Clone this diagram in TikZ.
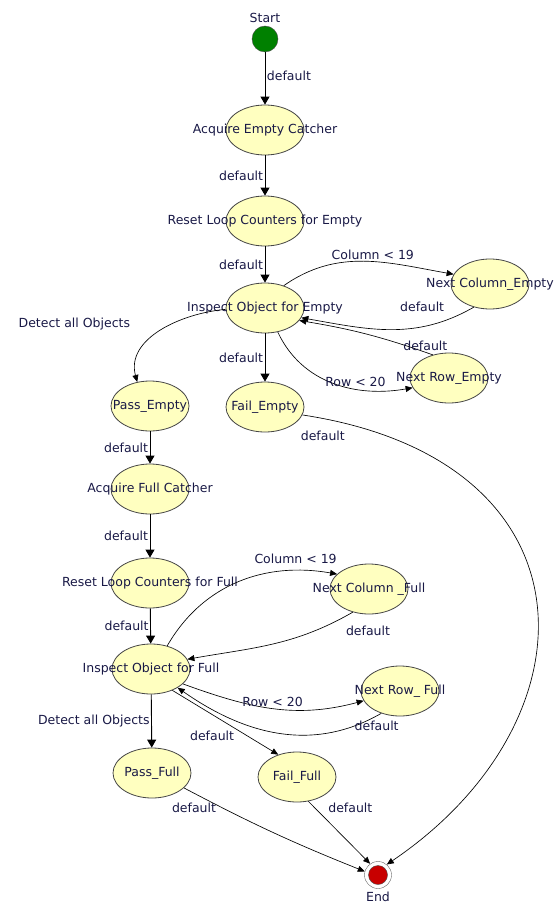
\documentclass[tikz,border=0pt]{standalone}
\usepackage{fontspec}
\setmainfont{DejaVu Sans}
\usepackage{xcolor}
\usepackage{tikz}
\usetikzlibrary{arrows.meta,shapes.geometric}
\definecolor{statefill}{RGB}{255,255,192}
\definecolor{stateline}{RGB}{70,70,70}
\definecolor{labeltext}{RGB}{25,25,70}
\definecolor{startgreen}{RGB}{0,128,0}
\definecolor{endred}{RGB}{200,0,0}
\tikzstyle{state} = [ellipse, draw = stateline, fill = statefill, line width = 0.8pt, minimum width = 78pt, minimum height = 50pt, inner sep = 0pt]
\tikzstyle{line} = [line width = 0.9pt, -{Triangle[width = 9pt, length = 8pt]}]
\tikzstyle{link} = [line width = 0.65pt, -{Triangle[width = 6pt, length = 7pt]}]
\tikzstyle{lab} = [inner sep = 1.5pt]

\begin{document}
\begin{tikzpicture}[x = 1pt, y = 1pt, font = \fontsize{12.5}{15}\selectfont, text = labeltext]
        \useasboundingbox (0,0) rectangle (554,-904);
        % states
        \node (Start) [circle, draw = black!70, fill = startgreen, minimum size = 26pt, inner sep = 0pt, label = above:Start] at (265,-39) {};
        \node (AE) [state, label = center:Acquire Empty Catcher] at (265,-130) {};
        \node (RE) [state, label = center:Reset Loop Counters for Empty] at (265,-221) {};
        \node (IE) [state, label = center:Inspect Object for Empty] at (265,-308) {};
        \node (NCE) [state, label = center:Next Column\_Empty] at (490,-284) {};
        \node (NRE) [state, label = center:Next Row\_Empty] at (449,-378) {};
        \node (PE) [state, label = center:Pass\_Empty] at (150,-406) {};
        \node (FE) [state, label = center:Fail\_Empty] at (265,-407) {};
        \node (AF) [state, label = center:Acquire Full Catcher] at (150,-489) {};
        \node (RF) [state, label = center:Reset Loop Counters for Full] at (150,-583) {};
        \node (IF) [state, label = center:Inspect Object for Full] at (151,-669) {};
        \node (NCF) [state, label = center:Next Column \_Full] at (369,-589) {};
        \node (NRF) [state, label = center:Next Row\_ Full] at (400,-691) {};
        \node (PF) [state, label = center:Pass\_Full] at (152,-773) {};
        \node (FF) [state, label = center:Fail\_Full] at (297,-777) {};
        \node (End) [circle, draw = black!60, fill = white, minimum size = 27pt, inner sep = 0pt, label = below:End] at (378,-875) {};
        \node (EndDot) [circle, draw = black!70, fill = endred, minimum size = 19pt, inner sep = 0pt] at (End) {};
        % empty catcher
        \draw[line] (Start) -- node[lab, right, pos = 0.45] {default} (AE);
        \draw[line] (AE) -- node[lab, left] {default} (RE);
        \draw[line] (RE) -- node[lab, left] {default} (IE);
        \draw[link] (IE.50) to[out = 35, in = 170] node[lab, above, pos = 0.55] {Column < 19} (NCE.165);
        \draw[link] (NCE.-125) to[out = -150, in = -10] node[lab, above, pos = 0.15, xshift = -26pt, yshift = 6pt] {default} (IE.-15);
        \draw[link] (IE.-62) to[out = -65, in = 190] node[lab, above, pos = 0.65] {Row < 20} (NRE.195);
        \draw[link] (NRE.125) to[bend right = 5] node[lab, above, pos = 0.05] {default} (IE.-20);
        \draw[link] (IE.182) to[out = 185, in = 105] node[lab, left, pos = 0.4, xshift = -40pt] {Detect all Objects} (PE.118);
        \draw[line] (IE) -- node[lab, left] {default} (FE);
        \draw[line] (PE) -- node[lab, left] {default} (AF);
        \draw[link] (FE.-12) .. controls (600,-460) and (600,-720) .. node[lab, below = 6pt, pos = 0.05, xshift = -22pt] {default} (End.50);
        % full catcher
        \draw[line] (AF) -- node[lab, left] {default} (RF);
        \draw[line] (RF) -- node[lab, left] {default} (IF);
        \draw[link] (IF.55) to[out = 60, in = 170] node[lab, above, pos = 0.8, yshift = 5pt] {Column < 19} (NCF.155);
        \draw[link] (NCF.-125) to[out = -150, in = 10] node[lab, below right, pos = 0.05, yshift = -7pt] {default} (IF.15);
        \draw[link] (IF.-25) to[out = -20, in = 195] node[lab, above, pos = 0.5] {Row < 20} (NRF.195);
        \draw[link] (NRF.-130) to[out = -150, in = -35] node[lab, below right, pos = 0.05, xshift = -18pt] {default} (IF.-35);
        \draw[line] (IF) -- node[lab, left] {Detect all Objects} (PF);
        \draw[link] (IF.-45) -- node[lab, below left, pos = 0.6] {default} (FF.130);
        \draw[link] (PF.-25) to[bend right = 3] node[lab, below = 8pt, pos = 0.05] {default} (End.165);
        \draw[link] (FF.-65) -- node[lab, right, pos = 0.1, xshift = 12pt] {default} (End.125);
    \end{tikzpicture}
\end{document}
